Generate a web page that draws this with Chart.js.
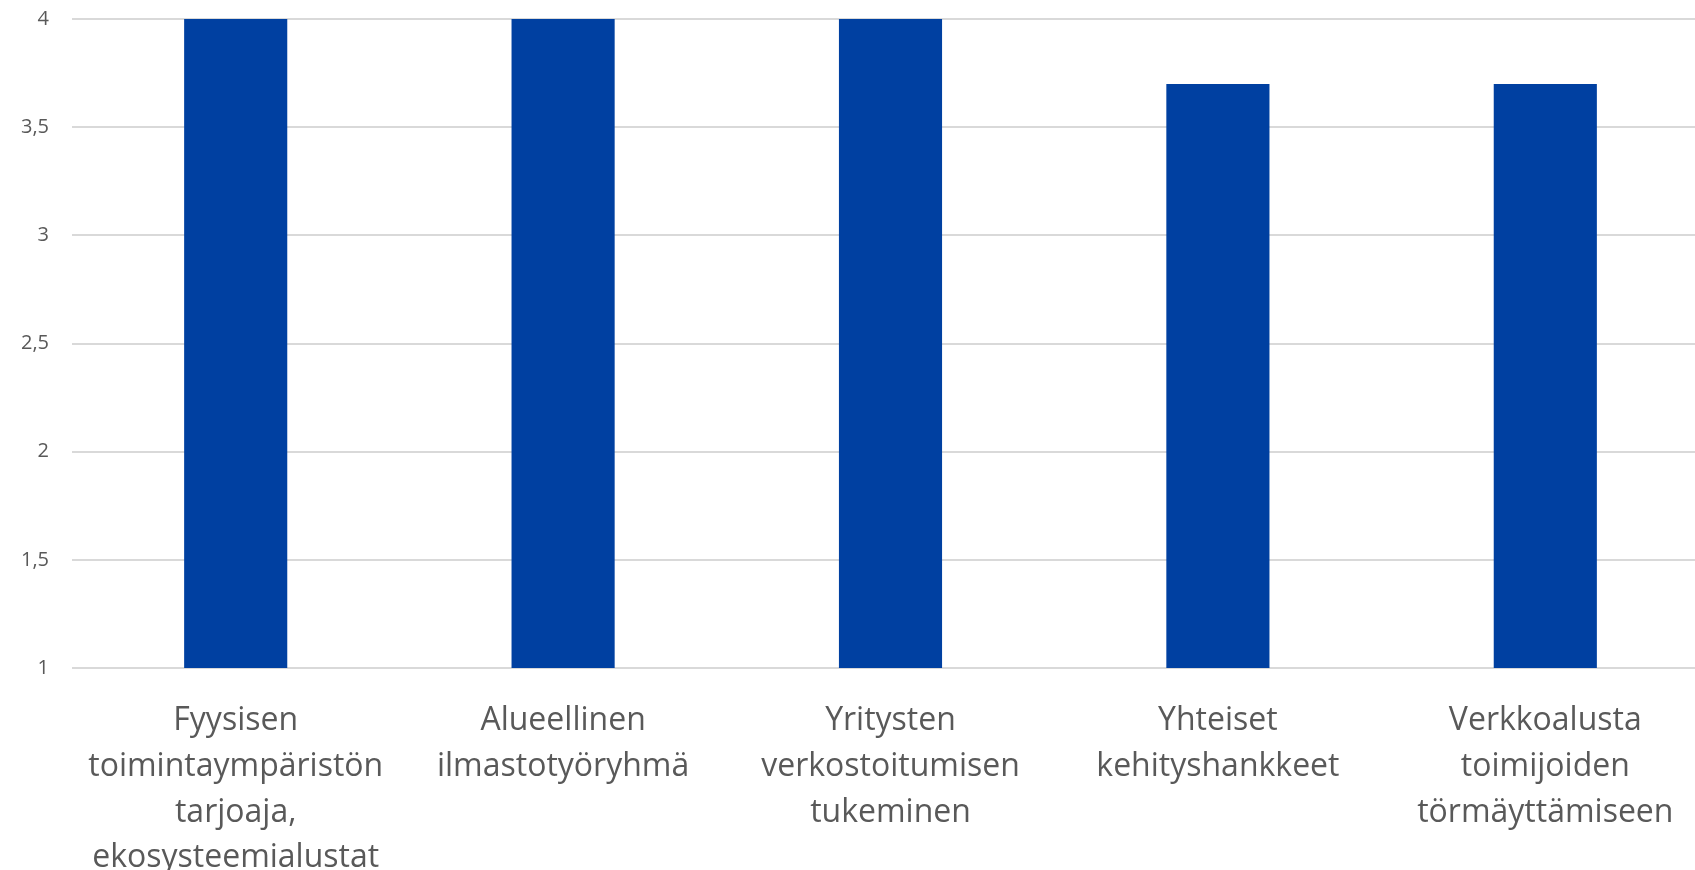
<!DOCTYPE html>
<html>
<head>
<meta charset="utf-8">
<script src="https://cdn.jsdelivr.net/npm/chart.js@4"></script>
<style>
    html, body { margin: 0; padding: 0; background: #fff; overflow: hidden; }
    #wrap { width: 1695px; height: 870px; overflow: hidden; }
</style>
</head>
<body>
<div id="wrap"><canvas id="barChart" width="1712" height="870"></canvas></div>
<script>
// 카테고리 (여러 줄 레이블)
const categories = [
    ['Fyysisen', 'toimintaympäristön', 'tarjoaja,', 'ekosysteemialustat'],
    ['Alueellinen', 'ilmastotyöryhmä'],
    ['Yritysten', 'verkostoitumisen', 'tukeminen'],
    ['Yhteiset', 'kehityshankkeet'],
    ['Verkkoalusta', 'toimijoiden', 'törmäyttämiseen']
];

// 값
const values = [4, 4, 4, 3.7, 3.7];

// y축 범위
const yMin = 1;
const yMax = 4;
const yStep = 0.5;

const barColor = '#0040A1';
const textColor = '#595959';
const gridColor = '#D9D9D9';

function createChart() {
    const ctx = document.getElementById('barChart').getContext('2d');

    new Chart(ctx, {
        type: 'bar',
        data: {
            labels: categories,
            datasets: [{
                data: values,
                backgroundColor: barColor,
                borderWidth: 0,
                barPercentage: 0.315,
                categoryPercentage: 1
            }]
        },
        options: {
            responsive: false,
            animation: false,
            layout: {
                padding: { top: 19, right: 3, bottom: 0, left: 0 }
            },
            plugins: {
                legend: { display: false },
                tooltip: { enabled: false }
            },
            scales: {
                x: {
                    grid: { display: false, drawTicks: false },
                    border: { display: false },
                    ticks: {
                        color: textColor,
                        padding: 30,
                        maxRotation: 0,
                        autoSkip: false,
                        font: { family: 'Open Sans', size: 32, lineHeight: 1.43 }
                    },
                    afterFit: scale => {
                        scale.height = 202;
                        scale.paddingLeft = 0;
                        scale.paddingRight = 0;
                    }
                },
                y: {
                    min: yMin,
                    max: yMax,
                    grid: { color: gridColor, lineWidth: 2, drawTicks: false },
                    border: { display: false },
                    ticks: {
                        stepSize: yStep,
                        color: textColor,
                        padding: 23,
                        font: { family: 'Open Sans', size: 20 },
                        callback: v => String(v).replace('.', ',')
                    },
                    afterFit: scale => {
                        scale.width = 72;
                        scale.paddingTop = 0;
                        scale.paddingBottom = 0;
                    }
                }
            }
        }
    });
}

createChart();
</script>
</body>
</html>
